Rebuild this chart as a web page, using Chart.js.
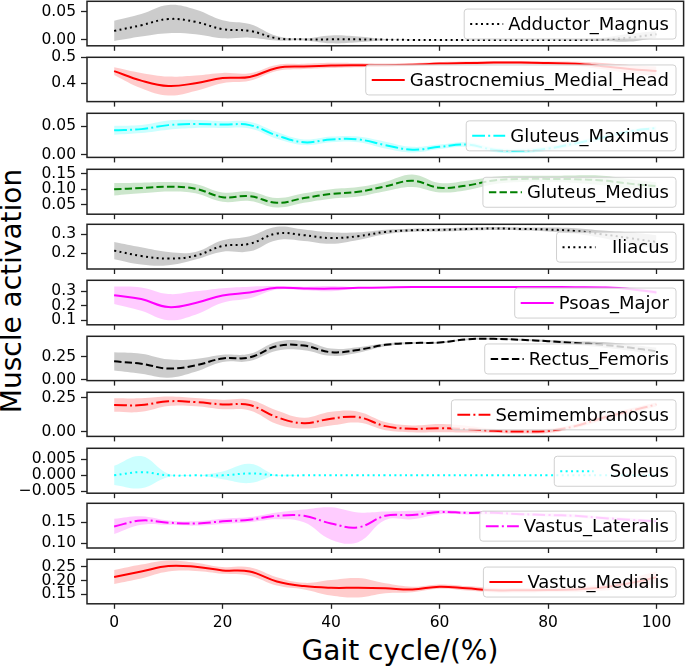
<!DOCTYPE html>
<html>
<head>
<meta charset="utf-8">
<script src="https://cdn.jsdelivr.net/npm/chart.js@4.4.1/dist/chart.umd.min.js"></script>
<style>
html, body { margin: 0; padding: 0; background: #fff; overflow: hidden; }
#wrap { position: relative; width: 685px; height: 671px; overflow: hidden; background: #fff; }
#wrap canvas { position: absolute; }
.title { position: absolute; font-family: "DejaVu Sans", sans-serif; font-size: 28px; line-height: 28px; color: #000; white-space: pre; text-align: center; }
#ytitle { left: -187.7px; top: 276.5px; width: 400px; height: 28px; transform: rotate(-90deg); }
#xtitle { left: 250px; top: 637px; width: 300px; height: 28px; }
</style>
</head>
<body>
<div id="wrap">
  <div class="title" id="ytitle">Muscle activation</div>
  <div class="title" id="xtitle">Gait cycle/(%)</div>
</div>
<script>
// gait cycle samples (%)
const gait = [0, 5, 10, 15, 20, 25, 30, 35, 40, 45, 50, 55, 60, 65, 70, 75, 80, 85, 90, 95, 100];
const gaitTicks = [0, 20, 40, 60, 80, 100];

// mean activation and spread
const adductorMean = [0.016, 0.026, 0.037, 0.032, 0.019, 0.016, 0.003, 0.001, 0.001, 0.001, 0.0005, 0, 0, 0, 0, 0, 0, 0, 0.001, 0.004, 0.010];
const adductorSd   = [0.018, 0.020, 0.025, 0.022, 0.016, 0.012, 0.004, 0.002, 0.007, 0.005, 0.001, 0.0005, 0.0005, 0.0005, 0.0005, 0.0005, 0.0005, 0.001, 0.003, 0.007, 0.006];

const gastrocMean = [0.447, 0.410, 0.389, 0.400, 0.420, 0.424, 0.459, 0.465, 0.469, 0.470, 0.470, 0.472, 0.476, 0.478, 0.480, 0.480, 0.478, 0.475, 0.466, 0.455, 0.447];
const gastrocSd   = [0.015, 0.030, 0.037, 0.030, 0.020, 0.015, 0.012, 0.010, 0.010, 0.008, 0.006, 0.006, 0.006, 0.006, 0.006, 0.006, 0.006, 0.008, 0.012, 0.016, 0.018];

const glutMaxMean = [0.043, 0.045, 0.052, 0.054, 0.053, 0.052, 0.034, 0.022, 0.027, 0.027, 0.017, 0.009, 0.014, 0.018, 0.009, 0.007, 0.011, 0.020, 0.030, 0.041, 0.047];
const glutMaxSd   = [0.008, 0.007, 0.008, 0.007, 0.006, 0.006, 0.006, 0.005, 0.005, 0.005, 0.006, 0.005, 0.004, 0.004, 0.004, 0.004, 0.004, 0.004, 0.004, 0.003, 0.003];

const glutMedMean = [0.100, 0.104, 0.108, 0.102, 0.075, 0.078, 0.057, 0.072, 0.085, 0.092, 0.109, 0.127, 0.105, 0.112, 0.128, 0.133, 0.133, 0.132, 0.128, 0.118, 0.110];
const glutMedSd   = [0.020, 0.017, 0.015, 0.015, 0.015, 0.015, 0.015, 0.015, 0.015, 0.015, 0.015, 0.020, 0.015, 0.015, 0.012, 0.010, 0.010, 0.012, 0.015, 0.015, 0.012];

const iliacusMean = [0.214, 0.186, 0.172, 0.187, 0.238, 0.250, 0.304, 0.295, 0.280, 0.290, 0.312, 0.321, 0.323, 0.327, 0.330, 0.328, 0.325, 0.317, 0.300, 0.280, 0.260];
const iliacusSd   = [0.045, 0.045, 0.035, 0.020, 0.030, 0.040, 0.035, 0.030, 0.030, 0.020, 0.012, 0.008, 0.008, 0.008, 0.008, 0.008, 0.010, 0.015, 0.020, 0.030, 0.035];

const psoasMean = [0.272, 0.245, 0.190, 0.218, 0.270, 0.290, 0.322, 0.318, 0.317, 0.322, 0.325, 0.328, 0.328, 0.328, 0.328, 0.328, 0.328, 0.327, 0.325, 0.315, 0.290];
const psoasSd   = [0.060, 0.080, 0.090, 0.080, 0.050, 0.040, 0.012, 0.012, 0.018, 0.005, 0.003, 0.003, 0.003, 0.003, 0.003, 0.003, 0.003, 0.004, 0.006, 0.010, 0.015];

const rectusMean = [0.200, 0.174, 0.122, 0.156, 0.232, 0.243, 0.365, 0.372, 0.300, 0.325, 0.380, 0.400, 0.405, 0.440, 0.445, 0.435, 0.420, 0.400, 0.380, 0.350, 0.310];
const rectusSd   = [0.100, 0.110, 0.100, 0.070, 0.040, 0.040, 0.050, 0.050, 0.040, 0.030, 0.015, 0.010, 0.010, 0.010, 0.010, 0.010, 0.012, 0.020, 0.030, 0.035, 0.040];

const semiMean = [0.195, 0.195, 0.223, 0.217, 0.200, 0.195, 0.106, 0.062, 0.095, 0.106, 0.040, 0.020, 0.025, 0.018, 0.005, 0.000, 0.005, 0.040, 0.100, 0.150, 0.200];
const semiSd   = [0.050, 0.050, 0.035, 0.030, 0.035, 0.040, 0.050, 0.040, 0.050, 0.040, 0.030, 0.025, 0.030, 0.025, 0.015, 0.015, 0.015, 0.015, 0.020, 0.020, 0.015];

const soleusMean = [0, 0.001, 0, 0, 0, 0.0006, 0, 0, 0, 0, 0, 0, 0, 0, 0, 0, 0, 0, 0, 0, 0];
const soleusSd   = [0.003, 0.005, 0.0005, 0, 0.0012, 0.003, 0, 0, 0, 0, 0, 0, 0, 0, 0, 0, 0, 0, 0, 0, 0];

const vlMean = [0.140, 0.154, 0.149, 0.147, 0.152, 0.156, 0.165, 0.165, 0.147, 0.138, 0.165, 0.167, 0.174, 0.172, 0.172, 0.169, 0.167, 0.165, 0.160, 0.156, 0.152];
const vlSd   = [0.018, 0.010, 0.005, 0.005, 0.006, 0.006, 0.008, 0.015, 0.038, 0.035, 0.010, 0.010, 0.005, 0.004, 0.004, 0.004, 0.004, 0.004, 0.004, 0.004, 0.004];

const vmMean = [0.213, 0.233, 0.253, 0.250, 0.237, 0.233, 0.197, 0.180, 0.174, 0.174, 0.172, 0.168, 0.178, 0.172, 0.165, 0.165, 0.166, 0.168, 0.175, 0.190, 0.212];
const vmSd   = [0.025, 0.025, 0.020, 0.015, 0.012, 0.015, 0.015, 0.012, 0.028, 0.035, 0.018, 0.010, 0.008, 0.008, 0.008, 0.008, 0.008, 0.010, 0.012, 0.018, 0.022];

// line styles, matplotlib-like
const DASH = { solid: [], dotted: [2, 3.4], dashed: [7.4, 3.2], dashdot: [12.8, 3.2, 2, 3.2] };
const COL = {
  black:   ['#000000', 'rgba(0,0,0,0.2)'],
  red:     ['#ff0000', 'rgba(255,0,0,0.2)'],
  cyan:    ['#00ffff', 'rgba(0,255,255,0.2)'],
  green:   ['#008000', 'rgba(0,128,0,0.2)'],
  magenta: ['#ff00ff', 'rgba(255,0,255,0.2)']
};

const panels = [
  { label: 'Adductor_Magnus', mean: adductorMean, sd: adductorSd, col: 'black', dash: 'dotted', min: -0.0104, max: 0.0684, ticks: [0, 0.05], dec: 2 },
  { label: 'Gastrocnemius_Medial_Head', mean: gastrocMean, sd: gastrocSd, col: 'red', dash: 'solid', min: 0.3285, max: 0.5005, ticks: [0.4, 0.5], dec: 1 },
  { label: 'Gluteus_Maximus', mean: glutMaxMean, sd: glutMaxSd, col: 'cyan', dash: 'dashdot', min: -0.0045, max: 0.0727, ticks: [0, 0.05], dec: 2 },
  { label: 'Gluteus_Medius', mean: glutMedMean, sd: glutMedSd, col: 'green', dash: 'dashed', min: 0.0207, max: 0.1636, ticks: [0.05, 0.10, 0.15], dec: 2 },
  { label: '  Iliacus', mean: iliacusMean, sd: iliacusSd, col: 'black', dash: 'dotted', min: 0.1173, max: 0.3523, ticks: [0.2, 0.3], dec: 1 },
  { label: 'Psoas_Major', mean: psoasMean, sd: psoasSd, col: 'magenta', dash: 'solid', min: 0.0683, max: 0.374, ticks: [0.1, 0.2, 0.3], dec: 1 },
  { label: 'Rectus_Femoris', mean: rectusMean, sd: rectusSd, col: 'black', dash: 'dashed', min: -0.0094, max: 0.473, ticks: [0, 0.25], dec: 2 },
  { label: 'Semimembranosus', mean: semiMean, sd: semiSd, col: 'red', dash: 'dashdot', min: -0.0358, max: 0.2893, ticks: [0, 0.25], dec: 2 },
  { label: '  Soleus', mean: soleusMean, sd: soleusSd, col: 'cyan', dash: 'dotted', min: -0.00556, max: 0.00843, ticks: [-0.005, 0, 0.005], dec: 3 },
  { label: 'Vastus_Lateralis', mean: vlMean, sd: vlSd, col: 'magenta', dash: 'dashdot', min: 0.0893, max: 0.1945, ticks: [0.10, 0.15], dec: 2 },
  { label: 'Vastus_Medialis', mean: vmMean, sd: vmSd, col: 'red', dash: 'solid', min: 0.1159, max: 0.2772, ticks: [0.15, 0.20, 0.25], dec: 2 }
];

// page layout of the 11 axes
const panelTops = [1.5, 57.3, 113.1, 168.9, 224.7, 280.5, 336.3, 392.1, 447.9, 503.7, 559.5];
const plotH = 46.3;
const plotLeft = 87;
const plotRight = 683.6;

Chart.defaults.font.family = '"DejaVu Sans", sans-serif';
Chart.defaults.font.size = 15.5;
Chart.defaults.color = '#000';

const fmt = (v, d) => (v < 0 ? '\u2212' + Math.abs(v).toFixed(d) : Math.abs(v).toFixed(d));

function framePlugin() {
  return {
    id: 'frame',
    afterDatasetsDraw(chart) {
      const a = chart.chartArea, ctx = chart.ctx;
      ctx.save();
      ctx.strokeStyle = '#222';
      ctx.lineWidth = 1.5;
      ctx.strokeRect(a.left, a.top, a.right - a.left, a.bottom - a.top);
      ctx.restore();
    }
  };
}

function legendPlugin(p) {
  return {
    id: 'boxLegend',
    afterDraw(chart) {
      const a = chart.chartArea, ctx = chart.ctx;
      ctx.save();
      ctx.font = '18px "DejaVu Sans", sans-serif';
      const tw = ctx.measureText(p.label).width;
      const h = 30, right = a.right - 7.6;
      const w = 6 + 33 + 5 + tw + 7;
      const left = right - w;
      const cy = (a.top + a.bottom) / 2 + 0.5;
      const top = cy - h / 2;
      ctx.beginPath();
      ctx.roundRect(left, top, w, h, 3);
      ctx.fillStyle = 'rgba(255,255,255,0.8)';
      ctx.fill();
      ctx.strokeStyle = '#d0d0d0';
      ctx.lineWidth = 1;
      ctx.stroke();
      ctx.beginPath();
      ctx.setLineDash(DASH[p.dash]);
      ctx.strokeStyle = COL[p.col][0];
      ctx.lineWidth = 2;
      ctx.moveTo(left + 6, cy);
      ctx.lineTo(left + 39, cy);
      ctx.stroke();
      ctx.setLineDash([]);
      ctx.fillStyle = '#000';
      ctx.textBaseline = 'middle';
      ctx.textAlign = 'left';
      ctx.fillText(p.label, left + 44, cy + 1);
      ctx.restore();
    }
  };
}

const wrap = document.getElementById('wrap');

panels.forEach((p, i) => {
  const last = i === panels.length - 1;
  const xH = last ? 36 : 10;
  const top0 = Math.floor(panelTops[i]) - 12;
  const padTop = panelTops[i] - top0;
  const H = last ? 112 : 80;
  const W = 700;
  const padBottom = H - padTop - plotH - xH;

  const cv = document.createElement('canvas');
  cv.width = W;
  cv.height = H;
  cv.style.left = '0px';
  cv.style.top = top0 + 'px';
  cv.style.width = W + 'px';
  cv.style.height = H + 'px';
  wrap.appendChild(cv);

  const upper = gait.map((t, k) => ({ x: t, y: p.mean[k] + p.sd[k] }));
  const lower = gait.map((t, k) => ({ x: t, y: p.mean[k] - p.sd[k] }));
  const line  = gait.map((t, k) => ({ x: t, y: p.mean[k] }));

  const chart = new Chart(cv, {
    type: 'line',
    data: {
      datasets: [
        { label: p.label, data: line, borderColor: COL[p.col][0], borderWidth: 2, borderDash: DASH[p.dash],
          borderCapStyle: 'butt', pointRadius: 0, fill: false, order: 0, tension: 0.4 },
        { label: 'upper', data: upper, borderWidth: 0, borderColor: 'rgba(0,0,0,0)', backgroundColor: COL[p.col][1],
          pointRadius: 0, fill: '+1', order: 1, tension: 0.4 },
        { label: 'lower', data: lower, borderWidth: 0, borderColor: 'rgba(0,0,0,0)', pointRadius: 0, fill: false,
          order: 2, tension: 0.4 }
      ]
    },
    options: {
      responsive: false,
      animation: false,
      events: [],
      layout: { padding: { top: padTop, right: W - plotRight, left: 0, bottom: padBottom } },
      plugins: { legend: { display: false }, tooltip: { enabled: false } },
      scales: {
        x: {
          type: 'linear', min: -5, max: 105,
          afterBuildTicks: s => { s.ticks = gaitTicks.map(v => ({ value: v })); },
          afterFit: s => { s.height = xH; },
          grid: { drawOnChartArea: false, drawTicks: true, tickLength: 5, tickColor: '#222', tickWidth: 1.3 },
          border: { display: false },
          ticks: { display: last, autoSkip: false, maxRotation: 0, padding: 5, callback: v => String(v) }
        },
        y: {
          min: p.min, max: p.max,
          afterBuildTicks: s => { s.ticks = p.ticks.map(v => ({ value: v })); },
          afterFit: s => { s.width = plotLeft; },
          grid: { drawOnChartArea: false, drawTicks: true, tickLength: 6, tickColor: '#222', tickWidth: 1.3 },
          border: { display: false },
          ticks: { autoSkip: false, padding: 5, callback: v => fmt(v, p.dec) }
        }
      }
    },
    plugins: [framePlugin(), legendPlugin(p)]
  });

  // keep the axes box exactly where the figure has it
  const a = chart.chartArea;
  cv.style.left = Math.round(plotLeft - a.left) + 'px';
  cv.style.top = Math.round(panelTops[i] - a.top) + 'px';
});
</script>
</body>
</html>
